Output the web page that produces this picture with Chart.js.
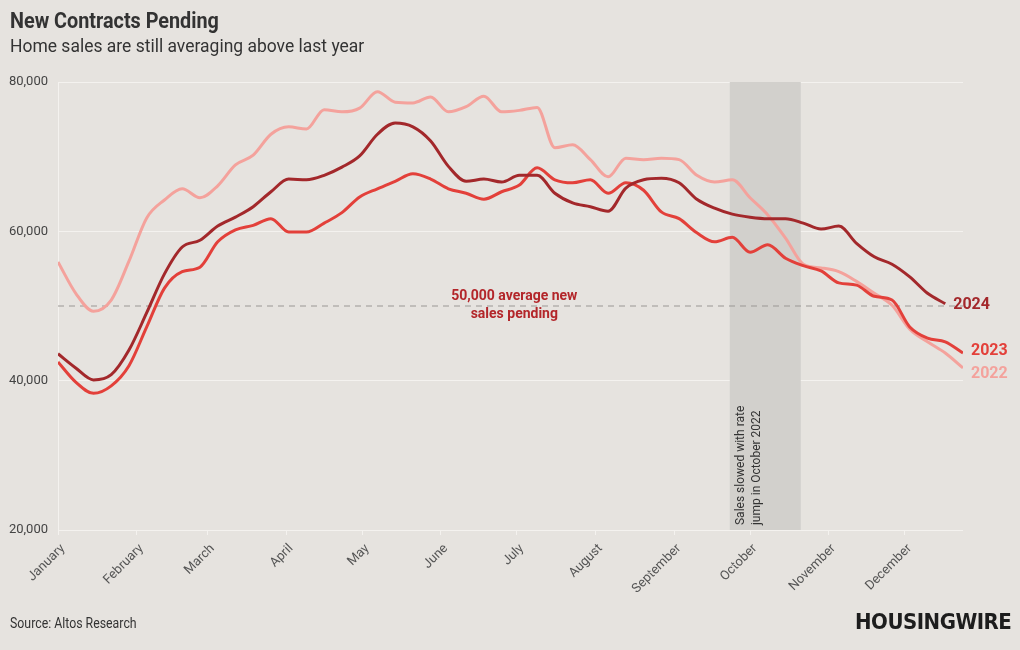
<!DOCTYPE html>
<html>
<head>
<meta charset="utf-8">
<title>New Contracts Pending</title>
<script src="https://cdn.jsdelivr.net/npm/chart.js@4"></script>
<style>
  body { margin: 0; background: #e6e3df; font-family: Roboto, sans-serif; color: #333; }
  #wrap { position: relative; width: 1020px; height: 650px; overflow: hidden; }
  canvas { position: absolute; left: 0; top: 0; }
  .txt { position: absolute; white-space: nowrap; transform-origin: left top; }
  #title { left: 10px; top: 8px; font-size: 22px; font-weight: bold; transform: scaleX(0.9); }
  #subtitle { left: 10px; top: 34px; font-size: 19px; transform: scaleX(0.92); }
  #source { left: 10px; top: 615px; font-size: 14px; transform: scaleX(0.88); }
  #logo { left: 855px; top: 609px; font-family: "DejaVu Sans Condensed", "DejaVu Sans", sans-serif; font-size: 22px; font-weight: bold; color: #1d1d1d; letter-spacing: -0.5px; }
</style>
</head>
<body>
<div id="wrap">
  <canvas id="salesChart" width="1020" height="650"></canvas>
  <div class="txt" id="title">New Contracts Pending</div>
  <div class="txt" id="subtitle">Home sales are still averaging above last year</div>
  <div class="txt" id="source">Source: Altos Research</div>
  <div class="txt" id="logo">HOUSINGWIRE</div>
</div>
<script>
// month ticks (day of year where each month starts)
const monthNames = ["January", "February", "March", "April", "May", "June", "July", "August", "September", "October", "November", "December"];
const monthStart = [0, 31, 59, 90, 120, 151, 181, 212, 243, 273, 304, 334];

// weekly points, day of year
const weekDay = [0, 7, 14, 21, 28, 35, 42, 49, 56, 63, 70, 77, 84, 91, 98, 105, 112, 119, 126, 133, 140, 147, 154, 161, 168, 175, 182, 189, 196, 203, 210, 217, 224, 231, 238, 245, 252, 259, 266, 273, 280, 287, 294, 301, 308, 315, 322, 329, 336, 343, 350, 357];

const pending2024 = [43600, 41700, 40100, 40800, 44100, 49100, 54300, 57900, 58800, 60700, 61900, 63300, 65300, 67000, 66900, 67500, 68600, 70100, 73000, 74500, 74000, 72100, 68700, 66700, 67000, 66600, 67500, 67500, 65100, 63800, 63300, 62700, 65800, 66900, 67100, 66500, 64300, 63100, 62300, 61900, 61700, 61700, 61100, 60300, 60700, 58400, 56600, 55600, 53900, 51700, 50300];
const pending2023 = [42500, 39800, 38300, 39300, 42000, 47200, 52400, 54600, 55200, 58600, 60200, 60800, 61700, 59900, 59900, 61100, 62500, 64600, 65700, 66700, 67700, 67000, 65700, 65100, 64300, 65300, 66200, 68500, 66900, 66500, 66900, 65100, 66500, 65500, 62600, 61700, 59800, 58600, 59200, 57200, 58200, 56400, 55400, 54700, 53100, 52800, 51300, 50800, 47200, 45700, 45200, 43700];
const pending2022 = [55900, 51700, 49300, 50800, 56000, 61800, 64200, 65700, 64500, 66100, 68900, 70200, 73000, 74000, 73700, 76300, 76000, 76500, 78700, 77300, 77200, 78000, 76000, 76700, 78100, 76000, 76200, 76600, 71200, 71600, 69600, 67300, 69800, 69600, 69800, 69600, 67500, 66600, 66900, 64500, 62200, 59100, 55600, 55100, 54600, 53300, 51700, 50100, 46900, 45200, 43700, 41700];

const yTicks = [20000, 40000, 60000, 80000];
const averageLine = 50000;
const bandStart = 265;   // rate jump, Oct 2022
const bandEnd = 293;

function toPoints(values) {
  return values.map((v, i) => ({ x: weekDay[i], y: v }));
}

// band, dashed average line and the text notes
const notesPlugin = {
  id: "notes",
  beforeDatasetsDraw(chart) {
    const ctx = chart.ctx;
    const area = chart.chartArea;
    const x = chart.scales.x;
    const y = chart.scales.y;

    const bx0 = x.getPixelForValue(bandStart);
    const bx1 = x.getPixelForValue(bandEnd);
    ctx.save();
    ctx.fillStyle = "#d2d0cc";
    ctx.fillRect(bx0, area.top, bx1 - bx0, area.bottom - area.top);

    // text inside the band
    ctx.translate(bx0 + 11, area.bottom - 5);
    ctx.rotate(-Math.PI / 2);
    ctx.fillStyle = "#333";
    ctx.font = "12px Roboto";
    ctx.textAlign = "left";
    ctx.textBaseline = "middle";
    ctx.fillText("Sales slowed with rate", 0, 0);
    ctx.fillText("jump in October 2022", 0, 16);
    ctx.restore();

    const ay = y.getPixelForValue(averageLine);
    ctx.save();
    ctx.strokeStyle = "#9a9794";
    ctx.lineWidth = 1;
    ctx.setLineDash([6, 5]);
    ctx.beginPath();
    ctx.moveTo(area.left, ay);
    ctx.lineTo(area.right, ay);
    ctx.stroke();
    ctx.restore();
  },
  afterDatasetsDraw(chart) {
    const ctx = chart.ctx;
    const x = chart.scales.x;
    const y = chart.scales.y;
    const ay = y.getPixelForValue(averageLine);

    ctx.save();
    ctx.font = "bold 14px Roboto";
    ctx.fillStyle = "#b3262a";
    ctx.textAlign = "center";
    ctx.textBaseline = "middle";
    const cx = x.getPixelForValue(180);
    ctx.fillText("50,000 average new", cx, ay - 10);
    ctx.fillText("sales pending", cx, ay + 8);

    // year labels at line ends
    ctx.font = "bold 16px Roboto";
    ctx.textAlign = "left";
    const last = (vals) => ({ px: x.getPixelForValue(weekDay[vals.length - 1]), py: y.getPixelForValue(vals[vals.length - 1]) });
    let p = last(pending2024);
    ctx.fillStyle = "#a3282b";
    ctx.fillText("2024", p.px + 8, p.py + 1);
    p = last(pending2023);
    ctx.fillStyle = "#e3403a";
    ctx.fillText("2023", p.px + 8, p.py - 2);
    p = last(pending2022);
    ctx.fillStyle = "#f4a29c";
    ctx.fillText("2022", p.px + 8, p.py + 6);
    ctx.restore();
  }
};

const ctx = document.getElementById("salesChart").getContext("2d");
const chart = new Chart(ctx, {
  type: "line",
  data: {
    datasets: [
      { label: "2024", data: toPoints(pending2024), borderColor: "#a3282b", order: 1 },
      { label: "2023", data: toPoints(pending2023), borderColor: "#e3403a", order: 2 },
      { label: "2022", data: toPoints(pending2022), borderColor: "#f4a29c", order: 3 }
    ]
  },
  options: {
    responsive: false,
    animation: false,
    layout: { padding: { top: 82, right: 57, bottom: 30, left: 0 } },
    elements: {
      line: { borderWidth: 3, tension: 0.4, cubicInterpolationMode: "monotone" },
      point: { radius: 0 }
    },
    plugins: {
      legend: { display: false },
      tooltip: { enabled: false }
    },
    scales: {
      x: {
        type: "linear",
        min: 0,
        max: 357,
        afterBuildTicks: (scale) => { scale.ticks = monthStart.map(v => ({ value: v })); },
        afterFit: (scale) => { scale.height = 90; },
        ticks: {
          autoSkip: false,
          minRotation: 45,
          maxRotation: 45,
          padding: 6,
          labelOffset: 5,
          color: "#555",
          font: { family: "Roboto", size: 13 },
          callback: (value, index) => monthNames[index]
        },
        grid: { display: true, drawOnChartArea: false, tickLength: 5, color: "#f4f2ef" },
        border: { display: false }
      },
      y: {
        min: 20000,
        max: 80000,
        afterBuildTicks: (scale) => { scale.ticks = yTicks.map(v => ({ value: v })); },
        afterFit: (scale) => { scale.width = 58; },
        ticks: {
          padding: 10,
          color: "#444",
          font: { family: "Roboto", size: 13 },
          callback: (value) => value.toLocaleString("en-US")
        },
        grid: { color: "#f4f2ef", lineWidth: 1, drawTicks: false },
        border: { display: true, color: "#f4f2ef" }
      }
    }
  },
  plugins: [notesPlugin]
});
</script>
</body>
</html>
